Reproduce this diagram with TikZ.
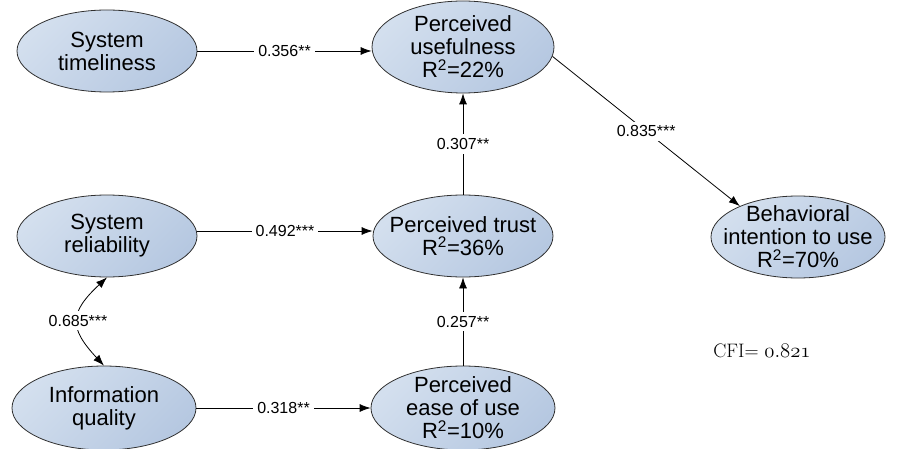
\documentclass[tikz,border=0pt]{standalone}
\usepackage{fontspec}
\newfontfamily\arialfont{Liberation Sans}
\usetikzlibrary{shapes.geometric,arrows.meta}
\definecolor{nodelight}{HTML}{D3DFEE}
\definecolor{nodedark}{HTML}{B6C8E1}
\definecolor{rimgray}{HTML}{303030}
\begin{document}
\begin{tikzpicture}[x=1pt,y=-1pt,
  latent/.style={ellipse, draw=rimgray, line width=0.8pt,
    top color=nodelight, bottom color=nodedark, shading angle=45,
    minimum width=180pt, minimum height=82pt, inner sep=0pt},
  nodetext/.style={font=\arialfont\fontsize{22}{23}\selectfont, align=center, inner sep=0pt},
  effect/.style={draw=black, line width=0.8pt, -{Latex[length=11pt,width=8pt]}},
  coef/.style={font=\arialfont\fontsize{16}{18}\selectfont, fill=white, inner sep=4pt}
]
\useasboundingbox (0,0) rectangle (901,449);

% constructs
\node[latent, label={[nodetext]center:System\\timeliness}] (ST) at (107,51) {};
\node[latent, minimum width=182pt, minimum height=92pt,
  label={[nodetext]center:Perceived\\usefulness\\R\textsuperscript{2}=22\%}] (PU) at (463,47) {};
\node[latent, label={[nodetext]center:System\\reliability}] (SR) at (107,236) {};
\node[latent, label={[nodetext]center:Perceived trust\\R\textsuperscript{2}=36\%}] (PT) at (463,236) {};
\node[latent, minimum width=174pt,
  label={[nodetext]center:Behavioral\\intention to use\\R\textsuperscript{2}=70\%}] (BI) at (798,237) {};
\node[latent, minimum width=184pt, minimum height=84pt,
  label={[nodetext]center:Information\\quality}] (IQ) at (104,408) {};
\node[latent, minimum width=184pt, minimum height=84pt,
  label={[nodetext]center:Perceived\\ease of use\\R\textsuperscript{2}=10\%}] (PEU) at (463,408) {};

% structural paths
\draw[effect] (ST.east) -- (PU.west |- ST.east) node[coef, midway] {0.356**};
\draw[effect] ([yshift=5pt]SR.east) -- ([yshift=5pt]SR.east -| PT.west) node[coef, midway] {0.492***};
\draw[effect] (IQ.east) -- (PEU.west |- IQ.east) node[coef, midway] {0.318**};
\draw[effect] (PT.north) -- (PU.south) node[coef, midway] {0.307**};
\draw[effect] (PEU.north) -- (PT.south) node[coef, midway] {0.257**};
\draw[effect] (PU.-6) -- (BI.152) node[coef, midway] {0.835***};

% correlation between exogenous constructs
\draw[line width=0.8pt, {Latex[length=11pt,width=8pt]}-{Latex[length=11pt,width=8pt]}]
  (SR.south) to[bend right=45, looseness=1.5] node[coef] {0.685***} (IQ.north);

% model fit
\node[font=\fontsize{19.5}{22}\selectfont, inner sep=0pt] (cfi) at (762,351) {CFI= $\mathnormal{0.821}$};
\end{tikzpicture}
\end{document}
